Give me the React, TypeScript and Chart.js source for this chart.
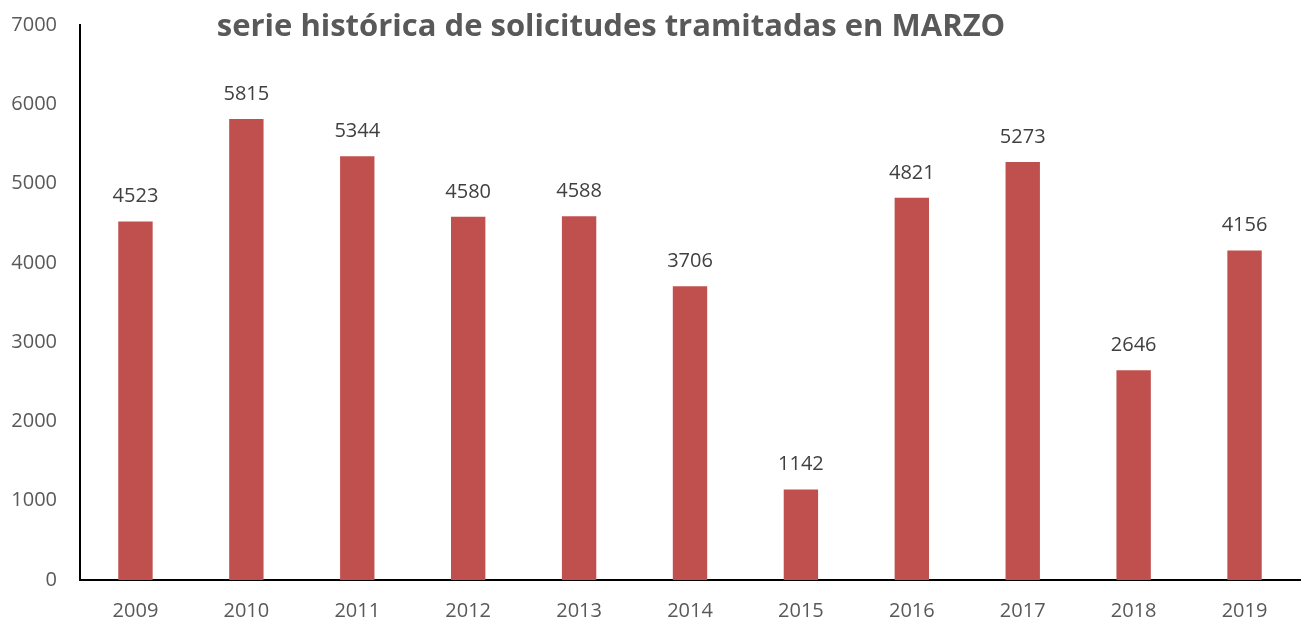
import React, { useEffect, useRef } from "react";
import { Chart, registerables } from "chart.js";

Chart.register(...registerables);

const titleText = "serie histórica de solicitudes tramitadas en MARZO";
const years = ["2009", "2010", "2011", "2012", "2013", "2014", "2015", "2016", "2017", "2018", "2019"];
const requests = [4523, 5815, 5344, 4580, 4588, 3706, 1142, 4821, 5273, 2646, 4156];
const yMax = 7000;
const yStep = 1000;

const FONT = "'Open Sans', 'Liberation Sans', sans-serif";

export default function App() {
  const ref = useRef<HTMLCanvasElement | null>(null);

  useEffect(() => {
    if (!ref.current) return;
    const valueLabels = {
      id: "valueLabels",
      afterDatasetsDraw(chart: any) {
        const ctx = chart.ctx;
        const meta = chart.getDatasetMeta(0);
        ctx.save();
        ctx.fillStyle = "#404040";
        ctx.font = `20px ${FONT}`;
        ctx.textAlign = "center";
        ctx.textBaseline = "alphabetic";
        meta.data.forEach((bar: any, i: number) => {
          ctx.fillText(String(requests[i]), bar.x, bar.y - 19);
        });
        ctx.restore();
      },
    };
    const titlePlugin = {
      id: "customTitle",
      afterDraw(chart: any) {
        const ctx = chart.ctx;
        ctx.save();
        ctx.fillStyle = "#595959";
        ctx.font = `bold 31px ${FONT}`;
        ctx.textAlign = "center";
        ctx.textBaseline = "alphabetic";
        ctx.fillText(titleText, 611, 36);
        ctx.restore();
      },
    };
    const chart = new Chart(ref.current, {
      type: "bar",
      data: {
        labels: years,
        datasets: [
          {
            data: requests,
            backgroundColor: "#C0504D",
            borderWidth: 0,
            categoryPercentage: 1,
            barPercentage: 0.31,
          },
        ],
      },
      options: {
        animation: false,
        responsive: false,
        maintainAspectRatio: false,
        layout: { padding: { top: 25, right: 5, bottom: 0, left: 0 } },
        plugins: {
          legend: { display: false },
          tooltip: { enabled: false },
          title: { display: false },
        },
        scales: {
          x: {
            grid: { display: false, drawTicks: false },
            border: { display: true, color: "#000000", width: 2 },
            ticks: {
              color: "#595959",
              font: { family: FONT, size: 20 },
              padding: 19,
            },
            afterFit(scale: any) {
              scale.height = 51;
              scale.paddingLeft = 0;
              scale.paddingRight = 0;
            },
          },
          y: {
            min: 0,
            max: yMax,
            grid: { display: false, drawTicks: false },
            border: { display: true, color: "#000000", width: 2 },
            ticks: {
              stepSize: yStep,
              color: "#595959",
              font: { family: FONT, size: 20 },
              padding: 23,
              callback: (v: any) => String(v),
            },
            afterFit(scale: any) {
              scale.width = 80;
              scale.paddingTop = 0;
              scale.paddingBottom = 0;
            },
          },
        },
      },
      plugins: [valueLabels, titlePlugin],
    });
    return () => chart.destroy();
  }, []);

  return (
    <div style={{ position: "absolute", left: 0, top: 0, width: 1305, height: 631, background: "#ffffff" }}>
      <canvas ref={ref} width={1305} height={631} style={{ display: "block" }} />
    </div>
  );
}
